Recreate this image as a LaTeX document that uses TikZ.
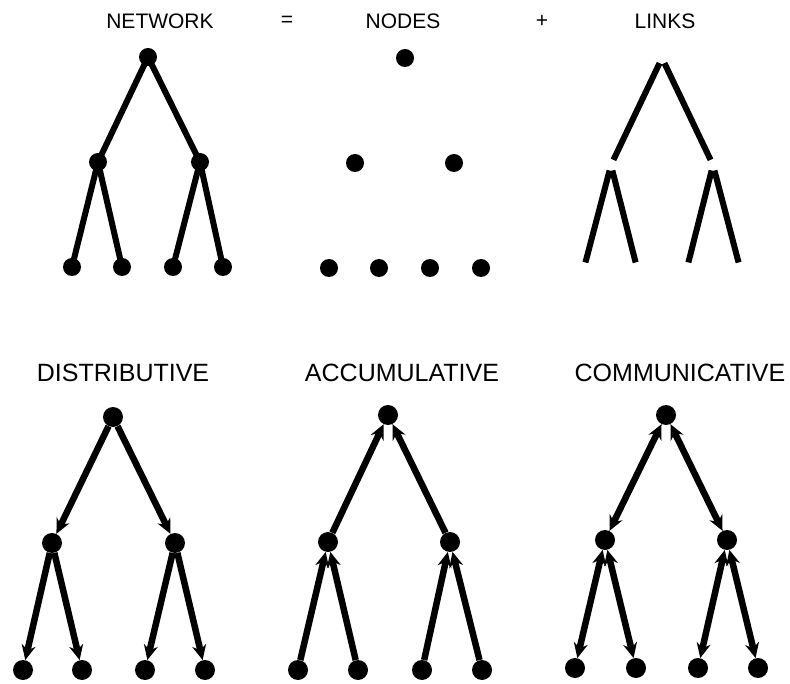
\documentclass[tikz,border=0pt]{standalone}
\usepackage{fontspec}
\setmainfont{Liberation Sans}
\usepackage{tikz}
\usetikzlibrary{arrows.meta}

\begin{document}
\begin{tikzpicture}[
  x=1pt, y=-1pt,
  dot/.style={circle, fill=black, inner sep=0pt, minimum size=20pt},
  hole/.style={circle, inner sep=0pt, minimum size=11pt},
  small/.style={circle, fill=black, inner sep=0pt, minimum size=18pt},
  toplbl/.style={font=\fontsize{21}{25}\selectfont, inner sep=0pt},
  kindlbl/.style={font=\fontsize{25}{30}\selectfont, inner sep=0pt},
  link/.style={line width=6pt},
  arr/.style={-{Stealth[length=15pt, width=14pt, inset=5pt]}, line width=6.5pt},
  both/.style={{Stealth[length=15pt, width=14pt, inset=5pt]}-{Stealth[length=15pt, width=14pt, inset=5pt]}, line width=6.5pt}
]
\useasboundingbox (0,0) rectangle (790,684);

% header line
\node[toplbl] (netlbl) at (160,21) {NETWORK};
\node[toplbl] (eqlbl) at (287,21) {=};
\node[toplbl] (nodlbl) at (403,21) {NODES};
\node[toplbl] (pluslbl) at (542,21) {+};
\node[toplbl] (lnklbl) at (665,21) {LINKS};

% network = nodes + links
\node[small] (nw) at (148,57) {};
\node[small] (nwA) at (98,162) {};
\node[small] (nwB) at (200,162) {};
\node[small] (nwA1) at (72,267) {};
\node[small] (nwA2) at (122,267) {};
\node[small] (nwB1) at (173,267) {};
\node[small] (nwB2) at (223,267) {};
\draw[link] (nw.center) -- (nwA.center) -- (nwA1.center);
\draw[link] (nwA.center) -- (nwA2.center);
\draw[link] (nw.center) -- (nwB.center) -- (nwB1.center);
\draw[link] (nwB.center) -- (nwB2.center);

\node[small] (nd) at (405,58) {};
\node[small] (ndA) at (355,163) {};
\node[small] (ndB) at (454,163) {};
\node[small] (ndA1) at (329,268) {};
\node[small] (ndA2) at (379,268) {};
\node[small] (ndB1) at (430,268) {};
\node[small] (ndB2) at (481,268) {};

\node[hole] (lk) at (662,58) {};
\node[hole] (lkA) at (611,165) {};
\node[hole] (lkB) at (713,165) {};
\node[hole] (lkA1) at (584,268) {};
\node[hole] (lkA2) at (637,268) {};
\node[hole] (lkB1) at (687,268) {};
\node[hole] (lkB2) at (740,268) {};
\draw[link] (lk) -- (lkA);
\draw[link] (lk) -- (lkB);
\draw[link] (lkA) -- (lkA1);
\draw[link] (lkA) -- (lkA2);
\draw[link] (lkB) -- (lkB1);
\draw[link] (lkB) -- (lkB2);

% the three kinds of flow
\node[kindlbl] (dslbl) at (123,373) {DISTRIBUTIVE};
\node[kindlbl] (aclbl) at (402,373) {ACCUMULATIVE};
\node[kindlbl] (cmlbl) at (680,373) {COMMUNICATIVE};

\node[dot] (ds) at (113,417) {};
\node[dot] (dsA) at (52,543) {};
\node[dot] (dsB) at (175,543) {};
\node[dot] (dsA1) at (23,670) {};
\node[dot] (dsA2) at (82,670) {};
\node[dot] (dsB1) at (145,670) {};
\node[dot] (dsB2) at (205,670) {};
\draw[arr] (ds) -- (dsA);
\draw[arr] (ds) -- (dsB);
\draw[arr] (dsA) -- (dsA1);
\draw[arr] (dsA) -- (dsA2);
\draw[arr] (dsB) -- (dsB1);
\draw[arr] (dsB) -- (dsB2);

\node[dot] (ac) at (388,415) {};
\node[dot] (acA) at (328,542) {};
\node[dot] (acB) at (450,542) {};
\node[dot] (acA1) at (298,670) {};
\node[dot] (acA2) at (358,670) {};
\node[dot] (acB1) at (422,670) {};
\node[dot] (acB2) at (482,670) {};
\draw[arr] (acA) -- (ac);
\draw[arr] (acB) -- (ac);
\draw[arr] (acA1) -- (acA);
\draw[arr] (acA2) -- (acA);
\draw[arr] (acB1) -- (acB);
\draw[arr] (acB2) -- (acB);

\node[dot] (cm) at (666,415) {};
\node[dot] (cmA) at (605,540) {};
\node[dot] (cmB) at (727,540) {};
\node[dot] (cmA1) at (575,668) {};
\node[dot] (cmA2) at (636,668) {};
\node[dot] (cmB1) at (698,668) {};
\node[dot] (cmB2) at (758,668) {};
\draw[both] (cm) -- (cmA);
\draw[both] (cm) -- (cmB);
\draw[both] (cmA) -- (cmA1);
\draw[both] (cmA) -- (cmA2);
\draw[both] (cmB) -- (cmB1);
\draw[both] (cmB) -- (cmB2);

\end{tikzpicture}
\end{document}
